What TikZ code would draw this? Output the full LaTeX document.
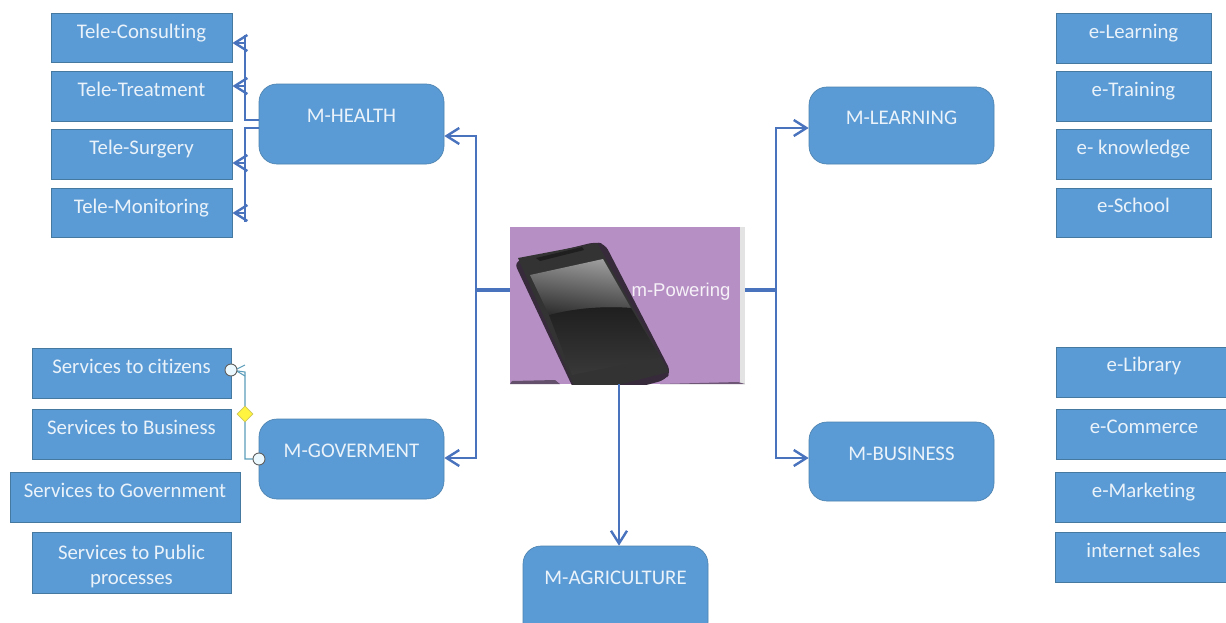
\documentclass[tikz,border=0pt]{standalone}
\usepackage{fontspec}
\setmainfont[Ligatures={NoCommon}]{Carlito}
\newfontfamily\phonefont{Liberation Sans}
\usetikzlibrary{arrows.meta,calc,shapes.geometric}
\definecolor{boxfill}{HTML}{5B9BD5}
\definecolor{boxedge}{HTML}{45799F}
\definecolor{linkblue}{HTML}{4A73BE}
\definecolor{boxtext}{HTML}{EAF2FA}
\definecolor{phonebg}{HTML}{B690C4}
\definecolor{thinlink}{HTML}{5B9DBA}
\tikzset{
  x=0.75pt,y=-0.75pt,
  leafbox/.style={draw=boxedge,line width=0.7pt,fill=boxfill,rectangle,inner sep=0pt,text=boxtext,font=\fontsize{15.6}{18}\selectfont},
  hubbox/.style={draw=boxedge!70!boxfill,line width=0.5pt,fill=boxfill,rectangle,rounded corners=13.5pt,inner sep=0pt,text=boxtext,font=\fontsize{15.6}{18}\selectfont},
  linkline/.style={draw=linkblue,line width=2.1pt},
  linkarrow/.style={linkline,-{Straight Barb[length=9.5pt,width=12pt,line width=1.8pt]}},
  stemline/.style={draw=linkblue,line width=3.4pt},
  handle/.style={circle,draw=gray!75!black,line width=0.7pt,fill=cyan!8!white,minimum size=9pt,inner sep=0pt},
  ydiamond/.style={diamond,draw=yellow!55!gray,line width=0.5pt,fill=yellow!75!white,minimum size=12pt,inner sep=0pt},
}
\newcommand{\pbox}[8]{%
  \pgfmathsetlengthmacro{\pboxraise}{(#7)*0.75pt}%
  \node[#1,minimum width={((#5)-(#3))*0.75pt},minimum height={((#6)-(#4))*0.75pt}] (#2) at ({((#3)+(#5))/2},{((#4)+(#6))/2}) {\smash{\raisebox{\pboxraise}{#8}}};%
}
\begin{document}
\begin{tikzpicture}
\useasboundingbox (0,0) rectangle (1226,622);
\fill[white] (0,0) rectangle (1226,622);

% central picture
\node[rectangle,fill=phonebg,inner sep=0pt,minimum width=176.25pt,minimum height=117.75pt] (phone) at (627.5,305.5) {};
\fill[gray!22!white] (740,227) rectangle (745,384);
\fill[black!45!phonebg] (510,384) -- (512,381) -- (555,380) -- (560,384) -- cycle;
\fill[black!40!phonebg] (660,384) -- (738,382) -- (745,384) -- cycle;
\begin{scope}
  \clip (510,227) rectangle (745,384);
  \fill[black!70!phonebg,rounded corners=5pt] (514,262) -- (595,242) -- (605,244) -- (671,372) -- (665,380) -- (620,392) -- (575,392) -- cycle;
  \fill[black!80] (518,258) -- (597,243) -- (669,372) -- (578,395) -- cycle;
  \fill[black!88] (536,258) -- (582,247) -- (584,250) -- (540,261) -- cycle;
  \shade[top color=black!38,bottom color=black!82,shading angle=-8] (530,275) -- (603,259) -- (631,308) .. controls (605,306) and (575,308) .. (549,315) -- cycle;
  \shade[top color=black!88,bottom color=black!78] (549,315) .. controls (575,308) and (605,306) .. (631,308) -- (660,357) -- (572,375) -- cycle;
\end{scope}
\node[font=\phonefont\fontsize{13.9}{16}\selectfont,text=white!88!phonebg,inner sep=0pt] (brand) at (681,292) {m-Powering};

% hubs
\pbox{hubbox}{health}{259}{84}{444}{164}{2}{M-HEALTH}
\pbox{hubbox}{learning}{809}{87}{994}{164}{1}{M-LEARNING}
\pbox{hubbox}{gov}{259}{419}{444}{499}{2}{M-GOVERMENT}
\pbox{hubbox}{business}{809}{422}{994}{501}{1}{M-BUSINESS}
\pbox{hubbox}{agri}{523}{546}{708}{640}{9}{M-AGRICULTURE}

% health leaves
\pbox{leafbox}{hc}{51}{13}{232}{62}{-0.5}{Tele-Consulting}
\pbox{leafbox}{ht}{51}{71}{232}{121}{-0.5}{Tele-Treatment}
\pbox{leafbox}{hs}{51}{129}{232}{179}{0}{Tele-Surgery}
\pbox{leafbox}{hm}{51}{188}{232}{237}{-0.5}{Tele-Monitoring}
% learning leaves
\pbox{leafbox}{ll}{1056}{13}{1211}{63}{0}{e-Learning}
\pbox{leafbox}{lt}{1056}{71}{1211}{121}{0}{e-Training}
\pbox{leafbox}{lk}{1056}{129}{1211}{179}{0}{e- knowledge}
\pbox{leafbox}{ls}{1056}{188}{1211}{237}{0}{e-School}
% business leaves
\pbox{leafbox}{bl}{1056}{347}{1232}{397}{1}{e-Library}
\pbox{leafbox}{bc}{1056}{409}{1232}{459}{1}{e-Commerce}
\pbox{leafbox}{bm}{1055}{472}{1232}{522}{0}{e-Marketing}
\pbox{leafbox}{bi}{1055}{532}{1232}{582}{0}{internet sales}
% government leaves
\pbox{leafbox}{gc}{32}{348}{231}{398}{0}{Services to citizens}
\pbox{leafbox}{gb}{32}{409}{231}{459}{0}{Services to Business}
\pbox{leafbox}{gg}{10}{472}{240}{522}{0}{Services to Government}
\pbox{leafbox}{gp}{32}{532}{231}{593}{-22}{\begin{tabular}[b]{@{}c@{}}Services to Public\\[1pt]processes\end{tabular}}

% main connectors
\coordinate (pl) at (510,290);
\coordinate (pr) at (745,290);
\coordinate (jl) at (476,290);
\coordinate (jr) at (776,290);
\draw[stemline] (pl) -- (jl);
\draw[stemline] (pr) -- (jr);
\draw[linkarrow] (jl) |- ($(health.east)+(0,12)$);
\draw[linkarrow] (jl) |- ($(gov.east)+(0,-1)$);
\draw[linkarrow] (jr) |- ($(learning.west)+(0,2.5)$);
\draw[linkarrow] (jr) |- ($(business.west)+(0,-3.5)$);
\draw[linkarrow] (phone.south -| 619,384) -- (agri.north -| 619,546);

% health branches
\coordinate (hu) at ($(health.west)+(0,-4)$);
\coordinate (hd) at ($(health.west)+(0,4)$);
\coordinate (vu) at (245,35);
\coordinate (vd) at (245,222);
\draw[linkline] (hu) -| (vu);
\draw[linkline] (hd) -| (vd);
\draw[linkarrow] (245,43) -- ($(hc.east)+(0,5.5)$);
\draw[linkarrow] (245,86) -- ($(ht.east)+(0,-10)$);
\draw[linkarrow] (245,163) -- ($(hs.east)+(0,9)$);
\draw[linkarrow] (245,213) -- ($(hm.east)+(0,0.5)$);

% selected connector
\coordinate (gu) at (231,370);
\coordinate (gd) at (259,459);
\draw[thinlink,line width=0.8pt] (gd) -| (245,372) -- (gu);
\draw[thinlink,line width=0.8pt] (245,365) -- (235,370) -- (245,376);
\node[handle] (hg1) at (gu) {};
\node[handle] (hg2) at (gd) {};
\node[ydiamond] (dg) at (245,414) {};
\end{tikzpicture}
\end{document}
